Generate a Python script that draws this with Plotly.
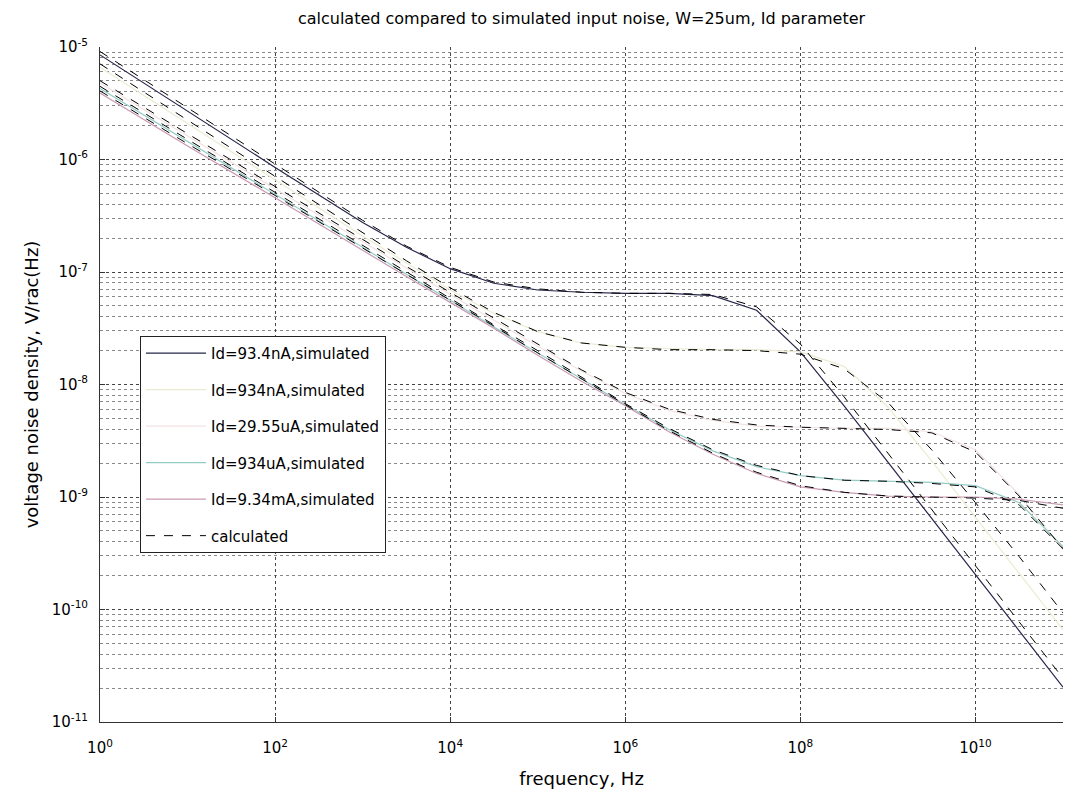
import plotly.graph_objects as go

# frequency grid (Hz)
freq = [1, 10, 100, 1e3, 3.16e3, 1e4, 3.16e4, 1e5, 3.16e5, 1e6, 3.16e6, 1e7,
        3.16e7, 1e8, 3.16e8, 1e9, 3.16e9, 1e10, 3.16e10, 1e11]

# simulated input noise, V/sqrt(Hz)
sim_93_4nA = [8.51e-6, 2.69e-6, 8.51e-7, 2.75e-7, 1.66e-7, 1.07e-7, 7.94e-8, 6.92e-8, 6.61e-8, 6.46e-8,
              6.46e-8, 6.17e-8, 4.57e-8, 1.95e-8, 6.46e-9, 2.04e-9, 6.46e-10, 2.04e-10, 6.46e-11, 2.04e-11]
sim_934nA = [6.61e-6, 2.09e-6, 6.61e-7, 2.09e-7, 1.20e-7, 6.92e-8, 4.27e-8, 2.95e-8, 2.34e-8, 2.14e-8,
             2.09e-8, 2.04e-8, 2.04e-8, 1.95e-8, 1.45e-8, 6.31e-9, 2.09e-9, 6.61e-10, 2.09e-10, 6.61e-11]
sim_29_55uA = [4.79e-6, 1.62e-6, 5.50e-7, 1.86e-7, 1.07e-7, 6.31e-8, 3.72e-8, 2.19e-8, 1.32e-8, 8.32e-9,
               5.89e-9, 4.79e-9, 4.27e-9, 4.17e-9, 4.07e-9, 4.07e-9, 3.80e-9, 2.63e-9, 1.05e-9, 3.39e-10]
sim_934uA = [4.27e-6, 1.45e-6, 4.90e-7, 1.66e-7, 9.55e-8, 5.62e-8, 3.24e-8, 1.91e-8, 1.12e-8, 6.61e-9,
             3.98e-9, 2.57e-9, 1.86e-9, 1.55e-9, 1.41e-9, 1.38e-9, 1.35e-9, 1.26e-9, 8.91e-10, 3.63e-10]
sim_9_34mA = [3.89e-6, 1.32e-6, 4.57e-7, 1.55e-7, 9.12e-8, 5.37e-8, 3.16e-8, 1.82e-8, 1.07e-8, 6.46e-9,
              3.80e-9, 2.40e-9, 1.62e-9, 1.23e-9, 1.10e-9, 1.02e-9, 1.00e-9, 1.00e-9, 9.55e-10, 8.51e-10]

# calculated input noise, V/sqrt(Hz)
calc_93_4nA = [9.12e-6, 2.88e-6, 9.12e-7, 2.88e-7, 1.70e-7, 1.10e-7, 8.13e-8, 7.08e-8, 6.61e-8, 6.46e-8,
               6.46e-8, 6.31e-8, 4.90e-8, 2.29e-8, 7.76e-9, 2.45e-9, 7.76e-10, 2.45e-10, 7.76e-11, 2.45e-11]
calc_934nA = [7.08e-6, 2.24e-6, 7.08e-7, 2.24e-7, 1.26e-7, 7.24e-8, 4.37e-8, 2.95e-8, 2.34e-8, 2.14e-8,
              2.04e-8, 2.04e-8, 2.00e-8, 1.86e-8, 1.38e-8, 6.92e-9, 2.63e-9, 8.91e-10, 2.95e-10, 9.33e-11]
calc_29_55uA = [5.01e-6, 1.70e-6, 5.75e-7, 1.95e-7, 1.12e-7, 6.61e-8, 3.89e-8, 2.29e-8, 1.35e-8, 8.51e-9,
                6.03e-9, 4.90e-9, 4.37e-9, 4.17e-9, 4.07e-9, 3.98e-9, 3.72e-9, 2.51e-9, 1.02e-9, 3.47e-10]
calc_934uA = [4.47e-6, 1.51e-6, 5.13e-7, 1.74e-7, 1.00e-7, 5.89e-8, 3.39e-8, 2.00e-8, 1.17e-8, 6.76e-9,
              4.07e-9, 2.63e-9, 1.91e-9, 1.55e-9, 1.41e-9, 1.38e-9, 1.32e-9, 1.23e-9, 8.51e-10, 3.47e-10]
calc_9_34mA = [4.07e-6, 1.38e-6, 4.79e-7, 1.62e-7, 9.55e-8, 5.62e-8, 3.31e-8, 1.91e-8, 1.12e-8, 6.61e-9,
               3.89e-9, 2.45e-9, 1.66e-9, 1.26e-9, 1.10e-9, 1.02e-9, 1.00e-9, 9.77e-10, 9.33e-10, 7.94e-10]

sim_names = ["Id=93.4nA,simulated", "Id=934nA,simulated", "Id=29.55uA,simulated",
             "Id=934uA,simulated", "Id=9.34mA,simulated"]
sim_series = [sim_93_4nA, sim_934nA, sim_29_55uA, sim_934uA, sim_9_34mA]
calc_series = [calc_93_4nA, calc_934nA, calc_29_55uA, calc_934uA, calc_9_34mA]
sim_colors = ["#26264c", "#ecebd2", "#f2e2e2", "#94cbc4", "#c99ab2"]

x_tickvals = [1, 1e2, 1e4, 1e6, 1e8, 1e10]
x_ticktext = ["10<sup>0</sup>", "10<sup>2</sup>", "10<sup>4</sup>", "10<sup>6</sup>",
              "10<sup>8</sup>", "10<sup>10</sup>"]
y_tickvals = [1e-11, 1e-10, 1e-9, 1e-8, 1e-7, 1e-6, 1e-5]
y_ticktext = ["10<sup>-11</sup>", "10<sup>-10</sup>", "10<sup>-9</sup>", "10<sup>-8</sup>",
              "10<sup>-7</sup>", "10<sup>-6</sup>", "10<sup>-5</sup>"]
y_minor = [m * 10.0 ** e for e in range(-11, -5) for m in range(2, 10)]

fig = go.Figure()
for i, (name, ys, col) in enumerate(zip(sim_names, sim_series, sim_colors)):
    fig.add_trace(go.Scatter(x=freq, y=ys, mode="lines", name=name,
                             line=dict(color=col, width=1.2),
                             legendgroup="g%d" % i))
for i, ys in enumerate(calc_series):
    fig.add_trace(go.Scatter(x=freq, y=ys, mode="lines", name="calculated",
                             line=dict(color="black", width=1, dash="dash"),
                             legendgroup="calc", showlegend=(i == 0)))

font_family = "DejaVu Sans, Liberation Sans, sans-serif"
fig.update_layout(
    width=1065, height=781,
    margin=dict(l=92, r=10, t=39, b=67, autoexpand=False),
    paper_bgcolor="white", plot_bgcolor="white",
    font=dict(family=font_family, color="black", size=14),
    title=dict(text="calculated compared to simulated input noise, W=25um, Id parameter",
               x=0.5, xref="paper", y=1 - 10 / 781, yref="container", yanchor="middle",
               xanchor="center", font=dict(size=16, color="black")),
    showlegend=True,
    legend=dict(x=0.0415, y=0.572, xanchor="left", yanchor="top",
                bgcolor="white", bordercolor="#222", borderwidth=1,
                font=dict(size=15, color="black"), tracegroupgap=14,
                itemwidth=60),
    xaxis=dict(type="log", range=[0, 11], tickvals=x_tickvals, ticktext=x_ticktext,
               automargin=False,
               showgrid=True, gridcolor="#444", griddash="dot", gridwidth=1,
               showline=True, linecolor="#333", linewidth=1, mirror=False,
               ticks="inside", ticklen=5, tickcolor="#333", zeroline=False,
               tickfont=dict(size=15), ticklabelstandoff=12,
               title=dict(text="frequency, Hz", font=dict(size=18), standoff=18)),
    yaxis=dict(type="log", range=[-11, -5], tickvals=y_tickvals, ticktext=y_ticktext,
               automargin=False,
               showgrid=True, gridcolor="#444", griddash="dot", gridwidth=1,
               showline=True, linecolor="#333", linewidth=1, mirror=False,
               ticks="inside", ticklen=5, tickcolor="#333", zeroline=False,
               tickfont=dict(size=15), ticklabelstandoff=8,
               minor=dict(tickmode="array", tickvals=y_minor, showgrid=True,
                          gridcolor="#888", griddash="dot", gridwidth=1, ticks=""),
               title=dict(text="voltage noise density, V/rac(Hz)", font=dict(size=18),
                          standoff=8)),
)

fig.write_html("out.html")
